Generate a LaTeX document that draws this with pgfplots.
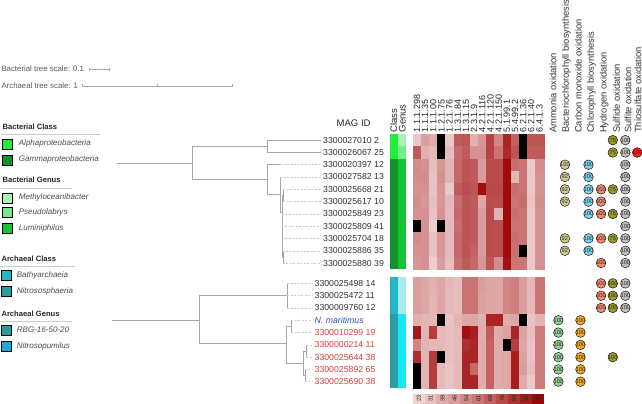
\documentclass[border=0pt]{standalone}
\usepackage{pgfplots}
\usepackage{pgfplotstable}
\pgfplotsset{compat=1.18}
\usepackage{fontspec}
\setmainfont{Liberation Sans}
\newcommand\fsz[1]{\fontsize{#1}{#1}\selectfont}
\definecolor{treeg}{HTML}{A8A8A8}
\definecolor{alphaC}{HTML}{22EE3A}
\definecolor{gammaC}{HTML}{12922A}
\definecolor{methyl}{HTML}{A8F2B2}
\definecolor{pseudo}{HTML}{76EC8A}
\definecolor{lumin}{HTML}{16C432}
\definecolor{bathy}{HTML}{24B6C4}
\definecolor{nitroso}{HTML}{299FA2}
\definecolor{rbg}{HTML}{289B9C}
\definecolor{nitropum}{HTML}{1FA8D8}
\definecolor{paleCy}{HTML}{A8ECEE}
\definecolor{brightCy}{HTML}{14E8F6}
\definecolor{cAmm}{HTML}{90D090}
\definecolor{cBchl}{HTML}{CCC98E}
\definecolor{cCO}{HTML}{F4A622}
\definecolor{cChl}{HTML}{80CCEA}
\definecolor{cH}{HTML}{F4876A}
\definecolor{cSulfide}{HTML}{9C9A2C}
\definecolor{cSulfite}{HTML}{BEBEBE}
\definecolor{cThio}{HTML}{EE1C1C}
\definecolor{redlab}{HTML}{E03C3C}
\definecolor{bluelab}{HTML}{3050C8}

\pgfplotstableread{
y c1 c2 c3 c4 c5 c6 c7 c8 c9 c10 c11 c12 c13 c14 c15 c16
144.1 28 45 40 0 28 70 72 38 48 78 55 88 68 0 72 72
156.4 70 38 34 0 33 65 70 50 50 78 62 86 72 0 70 70
168.6 52 50 32 48 36 66 72 70 46 75 75 96 64 62 28 52
180.8 52 52 30 50 36 66 72 70 46 75 75 96 35 62 28 50
193.1 50 50 30 48 28 70 74 72 95 76 76 96 64 62 28 50
205.3 52 48 32 48 34 64 72 70 42 75 74 96 62 64 30 52
217.6 50 50 30 50 34 66 72 70 46 76 38 96 64 62 28 50
229.8 0 50 25 0 34 64 72 70 46 75 74 96 62 62 28 50
242.0 52 50 30 48 34 66 72 70 46 75 74 96 64 62 28 50
254.3 50 50 30 48 34 66 72 68 46 75 74 96 64 0 28 50
266.5 48 50 26 46 32 64 70 66 48 72 52 94 62 62 28 50
}\bact

\pgfplotstableread{
y c1 c2 c3 c4 c5 c6 c7 c8 c9 c10 c11 c12 c13 c14 c15 c16
286.8 45 42 38 42 35 32 62 62 45 42 42 55 58 45 35 62
299.1 44 42 36 42 34 32 62 62 44 42 42 55 58 45 34 62
311.3 45 42 36 42 34 32 62 62 44 42 42 55 58 45 34 62
323.5 38 36 35 0 30 36 42 42 38 88 88 40 42 0 30 36
335.8 92 36 80 34 32 34 95 90 40 70 40 44 88 44 32 60
348.0 56 36 34 34 32 34 85 88 40 68 40 0 80 42 30 60
360.3 85 36 80 0 32 34 88 88 40 68 40 42 90 44 30 60
372.5 0 36 80 34 30 34 88 66 40 68 40 42 90 45 32 60
384.7 0 36 80 34 30 34 88 88 40 68 40 42 90 40 28 60
}\arch

% gene-function dots: x y label
\pgfplotstableread{
x y t
557 323.5 100
557 335.8 100
557 348.0 100
557 360.3 100
557 372.5 100
557 384.7 100
}\dAmm
\pgfplotstableread{
x y t
563.5 168.6 100
563.5 180.8 92
563.5 193.1 92
563.5 205.3 92
563.5 242.0 92
563.5 254.3 92
}\dBchl
\pgfplotstableread{
x y t
579 323.5 100
579 335.8 100
579 348.0 100
579 360.3 100
579 372.5 100
579 384.7 100
}\dCO
\pgfplotstableread{
x y t
587 168.6 100
587 180.8 100
587 193.1 100
587 205.3 100
587 217.6 100
587 242.0 100
587 254.3 100
}\dChl
\pgfplotstableread{
x y t
599.5 193.1 100
599.5 205.3 100
599.5 217.6 100
599.5 242.0 100
599.5 266.5 100
599.5 286.8 100
599.5 299.1 100
599.5 311.3 100
}\dH
\pgfplotstableread{
x y t
611.2 144.1 75
611.2 156.4 75
611.2 193.1 75
611.2 217.6 75
611.2 242.0 75
611.2 286.8 100
611.2 299.1 100
611.2 311.3 100
611.2 360.3 100
}\dSulfide
\pgfplotstableread{
x y t
623.7 144.1 100
623.7 156.4 100
623.7 168.6 100
623.7 180.8 100
623.7 193.1 100
623.7 205.3 100
623.7 217.6 100
623.7 229.8 100
623.7 242.0 100
623.7 254.3 100
623.7 266.5 100
623.7 286.8 100
623.7 299.1 100
623.7 311.3 100
}\dSulfite
\pgfplotstableread{
x y t
635.5 156.4 100
}\dThio

\pgfplotsset{
  tree/.style={color=treeg, line width=0.7pt},
  guide/.style={color=black!20, line width=0.5pt, dash pattern=on 2pt off 1.5pt},
  dotsty/.style={only marks, mark=*, mark size=4.8pt, mark options={fill=#1, draw=none}},
  hcell/.style={scatter, only marks, mark=square*, mark size=4.12pt,
    mark options={yscale=1.485, line width=0.15pt},
    scatter/use mapped color={draw=mapped color, fill=mapped color}, point meta=explicit},
  legsq/.style={only marks, mark=square*, mark size=5pt, mark options={fill=#1, draw=none}},
}
\tikzset{
  mag/.style={anchor=west, font=\fsz{8.7}, text=black!80, inner sep=0pt},
  ec/.style={rotate=90, anchor=west, font=\fsz{9}, text=black!85, inner sep=0pt},
  fn/.style={rotate=90, anchor=west, font=\fsz{9.3}, text=black!80, inner sep=0pt},
  keylab/.style={rotate=90, font=\fsz{5.8}, text=black!85, inner sep=0pt},
  legit/.style={anchor=west, font=\itshape\fsz{8}, text=black!70, inner sep=0pt},
  leghd/.style={anchor=west, font=\bfseries\fsz{7.6}, text=black!85, inner sep=0pt},
  dtxt/.style={font=\fsz{5.7}, text=black!82, inner sep=0pt},
}
\newcommand\dt[3]{\node[dtxt] at (#1,#2) {#3};}

\begin{document}
\begin{tikzpicture}
\begin{axis}[
  scale only axis, width=642pt, height=409pt,
  xmin=0, xmax=642, ymin=0, ymax=409, y dir=reverse,
  hide axis, clip=false, clip marker paths=true, set layers,
  colormap={heatmap}{rgb255(0pt)=(0,0,0) rgb255(20pt)=(0,0,0) rgb255(23pt)=(240,212,212) rgb255(60pt)=(204,122,122) rgb255(98pt)=(158,6,6)},
  point meta min=0, point meta max=98,
]

% ---------- scale bars ----------
\node[anchor=west, font=\fsz{7.8}, text=black!65, inner sep=0pt] at (2,73.3) {Bacterial tree scale: 0.1};
\node[anchor=west, font=\fsz{7.8}, text=black!65, inner sep=0pt] at (2,90) {Archaeal tree scale: 1};
\addplot[tree, line width=0.5pt] coordinates {(90,73.3) (110,73.3)};
\addplot[tree, line width=0.5pt] coordinates {(90,71.8) (90,74.8)};
\addplot[tree, line width=0.5pt] coordinates {(110,71.8) (110,74.8)};
\addplot[tree, line width=0.5pt] coordinates {(83,90) (232,90)};
\addplot[tree, line width=0.5pt] coordinates {(83,88.5) (83,91.5)};
\addplot[tree, line width=0.5pt] coordinates {(157.5,88.5) (157.5,91.5)};
\addplot[tree, line width=0.5pt] coordinates {(232,88.5) (232,91.5)};

% ---------- legends ----------
\node[leghd] at (3,131) {Bacterial Class};
\addplot[color=black!20, line width=0.6pt] coordinates {(2,138.3) (100,138.3)};
\addplot[legsq=alphaC] coordinates {(7.8,148.3)};
\addplot[legsq=gammaC] coordinates {(7.8,164)};
\node[legit] at (19.3,147.8) {Alphaproteobacteria};
\node[legit] at (19.3,163.5) {Gammaproteobacteria};

\node[leghd] at (3,184) {Bacterial Genus};
\addplot[color=black!20, line width=0.6pt] coordinates {(2,191.7) (72.7,191.7)};
\addplot[legsq=methyl] coordinates {(7.8,201.5)};
\addplot[legsq=pseudo] coordinates {(7.8,216.3)};
\addplot[legsq=lumin] coordinates {(7.8,231.7)};
\node[legit] at (19.3,201) {Methyloceanibacter};
\node[legit] at (19.3,216) {Pseudolabrys};
\node[legit] at (19.3,231.7) {Luminiphilus};

\node[leghd] at (2,262.7) {Archaeal Class};
\addplot[color=black!20, line width=0.6pt] coordinates {(1,270) (75,270)};
\addplot[legsq=bathy] coordinates {(6.7,279)};
\addplot[legsq=nitroso] coordinates {(6.7,294.7)};
\node[legit] at (17.3,279) {Bathyarchaeia};
\node[legit] at (17.3,294.7) {Nitrososphaeria};

\node[leghd] at (2,317.3) {Archaeal Genus};
\addplot[color=black!20, line width=0.6pt] coordinates {(1,324.7) (72,324.7)};
\addplot[legsq=rbg] coordinates {(6.7,333.3)};
\addplot[legsq=nitropum] coordinates {(6.7,349.3)};
\node[legit] at (17.3,333.3) {RBG-16-50-20};
\node[legit] at (17.3,349.3) {Nitrosopumilus};

% ---------- bacterial tree ----------
\addplot[tree] coordinates {(117,166.8) (192,166.8)};
\addplot[tree] coordinates {(267,150.25) (192,150.25) (192,183.3) (267,183.3)};
\addplot[tree] coordinates {(320,144.1) (267,144.1) (267,156.4) (320,156.4)};
\addplot[tree] coordinates {(280,168.6) (267,168.6) (267,198.3) (280,198.3)};
\addplot[tree] coordinates {(280,180.8) (280,215.8) (281.5,215.8)};
\addplot[tree] coordinates {(281.5,199.2) (281.5,260.4)};
\addplot[tree] coordinates {(281.5,199.2) (283,199.2)};
\addplot[tree] coordinates {(283,193.1) (283,205.3)};
\addplot[tree] coordinates {(281.5,260.4) (282.5,260.4)};
\addplot[tree] coordinates {(282.5,254.3) (282.5,266.5)};
\addplot[guide] coordinates {(280,168.6) (320,168.6)};
\addplot[guide] coordinates {(280,180.8) (320,180.8)};
\addplot[guide] coordinates {(283,193.1) (320,193.1)};
\addplot[guide] coordinates {(283,205.3) (320,205.3)};
\addplot[guide] coordinates {(281.5,217.6) (320,217.6)};
\addplot[guide] coordinates {(281.5,229.8) (320,229.8)};
\addplot[guide] coordinates {(281.5,242.0) (320,242.0)};
\addplot[guide] coordinates {(282.5,254.3) (320,254.3)};
\addplot[guide] coordinates {(282.5,266.5) (320,266.5)};

% ---------- archaeal tree ----------
\addplot[tree] coordinates {(112,323.3) (199,323.3)};
\addplot[tree] coordinates {(287,299.1) (199,299.1) (199,346.7) (286,346.7)};
\addplot[tree] coordinates {(287,286.8) (287,311.3)};
\addplot[tree] coordinates {(286,329.6) (286,366.4)};
\addplot[tree] coordinates {(286,329.6) (291,329.6)};
\addplot[tree] coordinates {(291,323.5) (291,335.8)};
\addplot[tree] coordinates {(286,366.4) (303,366.4)};
\addplot[tree] coordinates {(303,354.1) (303,378.6)};
\addplot[tree] coordinates {(303,354.1) (306,354.1)};
\addplot[tree] coordinates {(306,348.0) (306,360.3)};
\addplot[tree] coordinates {(303,378.6) (304.5,378.6)};
\addplot[tree] coordinates {(304.5,372.5) (304.5,384.7)};
\addplot[guide] coordinates {(287,286.8) (312,286.8)};
\addplot[guide] coordinates {(287,299.1) (312,299.1)};
\addplot[guide] coordinates {(287,311.3) (312,311.3)};
\addplot[guide] coordinates {(291,323.5) (312,323.5)};
\addplot[guide] coordinates {(291,335.8) (312,335.8)};
\addplot[guide] coordinates {(306,348.0) (312,348.0)};
\addplot[guide] coordinates {(306,360.3) (312,360.3)};
\addplot[guide] coordinates {(304.5,372.5) (312,372.5)};
\addplot[guide] coordinates {(304.5,384.7) (312,384.7)};

% ---------- MAG labels ----------
\node[font=\fsz{9.5}, text=black!85] at (353,127) {MAG ID};
\node[mag] at (322.5,144.1) {3300027010 2};
\node[mag] at (322.5,156.4) {3300026067 25};
\node[mag] at (322.5,168.6) {3300020397 12};
\node[mag] at (322.5,180.8) {3300027582 13};
\node[mag] at (322.5,193.1) {3300025668 21};
\node[mag] at (322.5,205.3) {3300025617 10};
\node[mag] at (322.5,217.6) {3300025849 23};
\node[mag] at (322.5,229.8) {3300025809 41};
\node[mag] at (322.5,242.0) {3300025704 18};
\node[mag] at (322.5,254.3) {3300025886 35};
\node[mag] at (322.5,266.5) {3300025880 39};
\node[mag] at (314,286.8) {3300025498 14};
\node[mag] at (314,299.1) {3300025472 11};
\node[mag] at (314,311.3) {3300009760 12};
\node[mag, font=\itshape\fsz{8.7}, text=bluelab] at (314,323.5) {N. maritimus};
\node[mag, text=redlab] at (314,335.8) {3300010299 19};
\node[mag, text=redlab] at (314,348.0) {3300000214 11};
\node[mag, text=redlab] at (314,360.3) {3300025644 38};
\node[mag, text=redlab] at (314,372.5) {3300025892 65};
\node[mag, text=redlab] at (314,384.7) {3300025690 38};

% ---------- class / genus strips ----------
\node[rotate=90, anchor=west, font=\fsz{9.5}, text=black!85, inner sep=0pt] at (393,136.5) {Class};
\node[rotate=90, anchor=west, font=\fsz{9.5}, text=black!85, inner sep=0pt] at (401.5,136.5) {Genus};
\addplot[fill=alphaC, draw=none] coordinates {(389,138) (397.2,138) (397.2,162.5) (389,162.5)} -- cycle;
\addplot[fill=gammaC, draw=none] coordinates {(389,162.5) (397.2,162.5) (397.2,272.6) (389,272.6)} -- cycle;
\addplot[fill=methyl, draw=none] coordinates {(397,138) (405,138) (405,150.3) (397,150.3)} -- cycle;
\addplot[fill=pseudo, draw=none] coordinates {(397,150.2) (405,150.2) (405,162.5) (397,162.5)} -- cycle;
\addplot[fill=lumin, draw=none] coordinates {(397,162.5) (405,162.5) (405,272.6) (397,272.6)} -- cycle;
\addplot[fill=bathy, draw=none] coordinates {(389,280.7) (397.2,280.7) (397.2,317.4) (389,317.4)} -- cycle;
\addplot[fill=nitroso, draw=none] coordinates {(389,317.4) (397.2,317.4) (397.2,390.8) (389,390.8)} -- cycle;
\addplot[fill=paleCy, draw=none] coordinates {(397,280.7) (405,280.7) (405,317.4) (397,317.4)} -- cycle;
\addplot[fill=brightCy, draw=none] coordinates {(397,317.4) (405,317.4) (405,390.8) (397,390.8)} -- cycle;

% ---------- heatmap ----------
\pgfplotsinvokeforeach{1,...,16}{
  \addplot[hcell] table[x expr={412+8.14*(#1-0.5)}, y=y, meta=c#1] {\bact};
  \addplot[hcell] table[x expr={412+8.14*(#1-0.5)}, y=y, meta=c#1] {\arch};
}
\node[ec] at (416.07,136.5) {1.1.1.298};
\node[ec] at (424.21,136.5) {1.1.1.35};
\node[ec] at (432.35,136.5) {1.1.1.00};
\node[ec] at (440.49,136.5) {1.2.1.75};
\node[ec] at (448.63,136.5) {1.2.1.76};
\node[ec] at (456.77,136.5) {1.3.1.84};
\node[ec] at (464.91,136.5) {1.3.1.15};
\node[ec] at (473.05,136.5) {2.3.1.9};
\node[ec] at (481.19,136.5) {4.2.1.116};
\node[ec] at (489.33,136.5) {4.2.1.120};
\node[ec] at (497.47,136.5) {4.2.1.150};
\node[ec] at (505.61,136.5) {5.1.99.1};
\node[ec] at (513.75,136.5) {5.4.99.2};
\node[ec] at (521.89,136.5) {6.2.1.36};
\node[ec] at (530.03,136.5) {6.2.1.40};
\node[ec] at (538.17,136.5) {6.4.1.3};

% ---------- colour key ----------
\addplot[hcell, mark size=5.95pt, mark options={yscale=0.84}] coordinates {
 (417.9,401.7) [23] (429.8,401.7) [31] (441.6,401.7) [39] (453.5,401.7) [46]
 (465.3,401.7) [54] (477.2,401.7) [61] (489.0,401.7) [69] (500.9,401.7) [76]
 (512.7,401.7) [84] (524.6,401.7) [91] (536.4,401.7) [98]};

% ---------- function labels ----------
\node[fn] at (551.7,137) {Ammonia oxidation};
\node[fn] at (565,137) {Bacteriochlorophyll biosynthesis};
\node[fn] at (576.7,137) {Carbon monoxide oxidation};
\node[fn] at (590,137) {Chlorophyll biosynthesis};
\node[fn] at (602.7,137) {Hydrogen oxidation};
\node[fn] at (615,137) {Sulfide oxidation};
\node[fn] at (626.5,137) {Sulfite oxidation};
\node[fn] at (636.3,137) {Thiosulfate oxidation};

% ---------- function dots ----------
\addplot[dotsty=cAmm] table[x=x, y=y] {\dAmm};
\addplot[dotsty=cBchl] table[x=x, y=y] {\dBchl};
\addplot[dotsty=cCO] table[x=x, y=y] {\dCO};
\addplot[dotsty=cChl] table[x=x, y=y] {\dChl};
\addplot[dotsty=cH] table[x=x, y=y] {\dH};
\addplot[dotsty=cSulfide] table[x=x, y=y] {\dSulfide};
\addplot[dotsty=cSulfite] table[x=x, y=y] {\dSulfite};
\addplot[dotsty=cThio] table[x=x, y=y] {\dThio};

\begin{pgfonlayer}{axis foreground}
\node[keylab] at (417.9,401.7) {23};
\node[keylab] at (429.8,401.7) {31};
\node[keylab] at (441.6,401.7) {39};
\node[keylab] at (453.5,401.7) {46};
\node[keylab] at (465.3,401.7) {54};
\node[keylab] at (477.2,401.7) {61};
\node[keylab] at (489.0,401.7) {69};
\node[keylab] at (500.9,401.7) {76};
\node[keylab] at (512.7,401.7) {84};
\node[keylab] at (524.6,401.7) {91};
\node[keylab] at (536.4,401.7) {98};
\dt{557}{323.5}{100}\dt{557}{335.8}{100}\dt{557}{348.0}{100}\dt{557}{360.3}{100}\dt{557}{372.5}{100}\dt{557}{384.7}{100}
\dt{563.5}{168.6}{100}\dt{563.5}{180.8}{92}\dt{563.5}{193.1}{92}\dt{563.5}{205.3}{92}\dt{563.5}{242.0}{92}\dt{563.5}{254.3}{92}
\dt{579}{323.5}{100}\dt{579}{335.8}{100}\dt{579}{348.0}{100}\dt{579}{360.3}{100}\dt{579}{372.5}{100}\dt{579}{384.7}{100}
\dt{587}{168.6}{100}\dt{587}{180.8}{100}\dt{587}{193.1}{100}\dt{587}{205.3}{100}\dt{587}{217.6}{100}\dt{587}{242.0}{100}\dt{587}{254.3}{100}
\dt{599.5}{193.1}{100}\dt{599.5}{205.3}{100}\dt{599.5}{217.6}{100}\dt{599.5}{242.0}{100}\dt{599.5}{266.5}{100}\dt{599.5}{286.8}{100}\dt{599.5}{299.1}{100}\dt{599.5}{311.3}{100}
\dt{611.2}{144.1}{75}\dt{611.2}{156.4}{75}\dt{611.2}{193.1}{75}\dt{611.2}{217.6}{75}\dt{611.2}{242.0}{75}\dt{611.2}{286.8}{100}\dt{611.2}{299.1}{100}\dt{611.2}{311.3}{100}\dt{611.2}{360.3}{100}
\dt{623.7}{144.1}{100}\dt{623.7}{156.4}{100}\dt{623.7}{168.6}{100}\dt{623.7}{180.8}{100}\dt{623.7}{193.1}{100}\dt{623.7}{205.3}{100}\dt{623.7}{217.6}{100}
\dt{623.7}{229.8}{100}\dt{623.7}{242.0}{100}\dt{623.7}{254.3}{100}\dt{623.7}{266.5}{100}\dt{623.7}{286.8}{100}\dt{623.7}{299.1}{100}\dt{623.7}{311.3}{100}
\node[dtxt, text=red!55!black] at (635.5,156.4) {100};
\end{pgfonlayer}

\end{axis}
\end{tikzpicture}
\end{document}
